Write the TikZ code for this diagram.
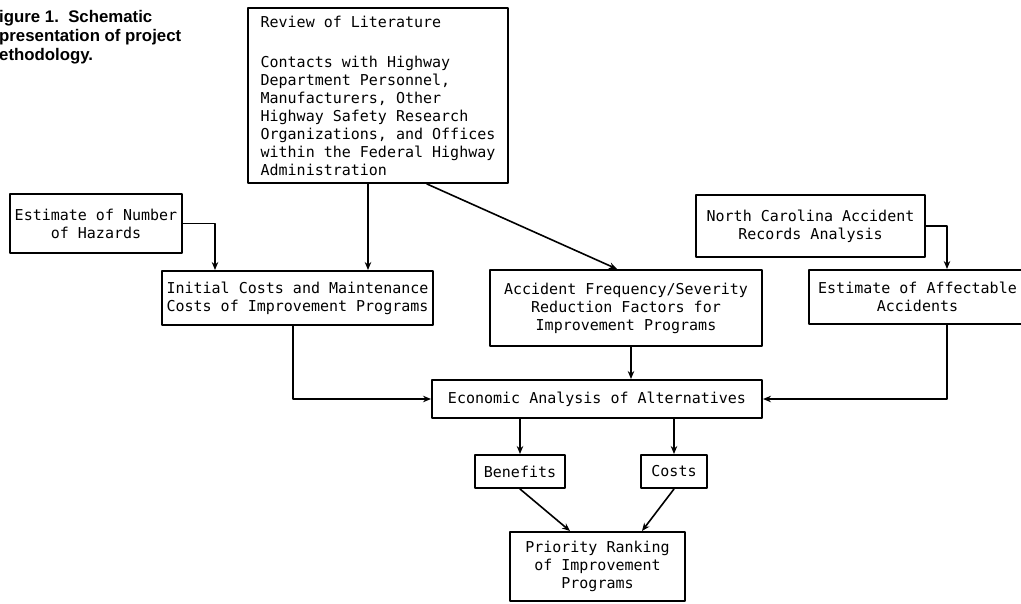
\documentclass[tikz,border=0pt]{standalone}
\usepackage{fontspec}
\setmainfont{Liberation Sans}
\setmonofont{DejaVu Sans Mono}
\usetikzlibrary{arrows.meta}
\tikzset{
  box/.style={draw, rectangle, line width=2pt, inner sep=0pt, align=center,
    font=\ttfamily\fontsize{15}{18}\selectfont},
  link/.style={->, line width=1.6pt},
}
\begin{document}
\begin{tikzpicture}[>={Stealth[length=8pt,width=6.5pt]}, x=1pt, y=-1pt, line join=round, line cap=round]
  \useasboundingbox[fill=white] (0,0) rectangle (1021,603);
  % caption, cut at the left edge as in the scan
  \node[anchor=north west, inner sep=0pt, align=left,
    font=\bfseries\fontsize{16.8}{19}\selectfont] (caption) at (-1,10)
    {igure 1.\ \ Schematic\\presentation of project\\ethodology.};
  % boxes
  \node[box, minimum width=260pt, minimum height=175pt, align=left]
    (review) at (378,95.5) {Review of Literature\\[22pt]Contacts with Highway\\
    Department Personnel,\\Manufacturers, Other\\Highway Safety Research\\
    Organizations, and Offices\\within the Federal Highway\\Administration};
  \node[box, minimum width=172pt, minimum height=59pt] (hazards) at (96,223.5)
    {Estimate of Number\\of Hazards};
  \node[box, minimum width=271pt, minimum height=54pt] (initial) at (297.5,298)
    {Initial Costs and Maintenance\\Costs of Improvement Programs};
  \node[box, minimum width=272pt, minimum height=76pt] (accident) at (626,308)
    {Accident Frequency/Severity\\Reduction Factors for\\Improvement Programs};
  \node[box, minimum width=229pt, minimum height=62pt] (nc) at (810.5,226)
    {North Carolina Accident\\Records Analysis};
  \node[box, minimum width=217pt, minimum height=54pt] (affect) at (917.5,297)
    {Estimate of Affectable\\Accidents};
  \node[box, minimum width=330pt, minimum height=38pt] (economic) at (597,399)
    {Economic Analysis of Alternatives};
  \node[box, minimum width=90pt, minimum height=33pt] (benefits) at (520,471.5) {Benefits};
  \node[box, minimum width=66pt, minimum height=33pt] (costs) at (674,471.5) {Costs};
  \node[box, minimum width=175pt, minimum height=69pt] (priority) at (597.5,566.5)
    {Priority Ranking\\of Improvement\\Programs};
  % connectors
  \draw[link] (hazards.east) -| ([xshift=-82.5pt]initial.north);
  \draw[link] ([xshift=-10pt]review.south) -- ([xshift=-10pt]review.south |- initial.north);
  \draw[link] ([xshift=49pt]review.south) -- ([xshift=-9pt]accident.north);
  \draw[link] (nc.east) -| ([xshift=29.5pt]affect.north);
  \draw[link] ([xshift=-4.5pt]initial.south) |- (economic.west);
  \draw[link] ([xshift=5pt]accident.south) -- ([xshift=5pt]accident.south |- economic.north);
  \draw[link] ([xshift=29.5pt]affect.south) |- (economic.east);
  \draw[link] (economic.south -| benefits.north) -- (benefits.north);
  \draw[link] (economic.south -| costs.north) -- (costs.north);
  \draw[link] (benefits.south) -- ([xshift=-27.5pt]priority.north);
  \draw[link] (costs.south) -- ([xshift=44.5pt]priority.north);
\end{tikzpicture}
\end{document}
